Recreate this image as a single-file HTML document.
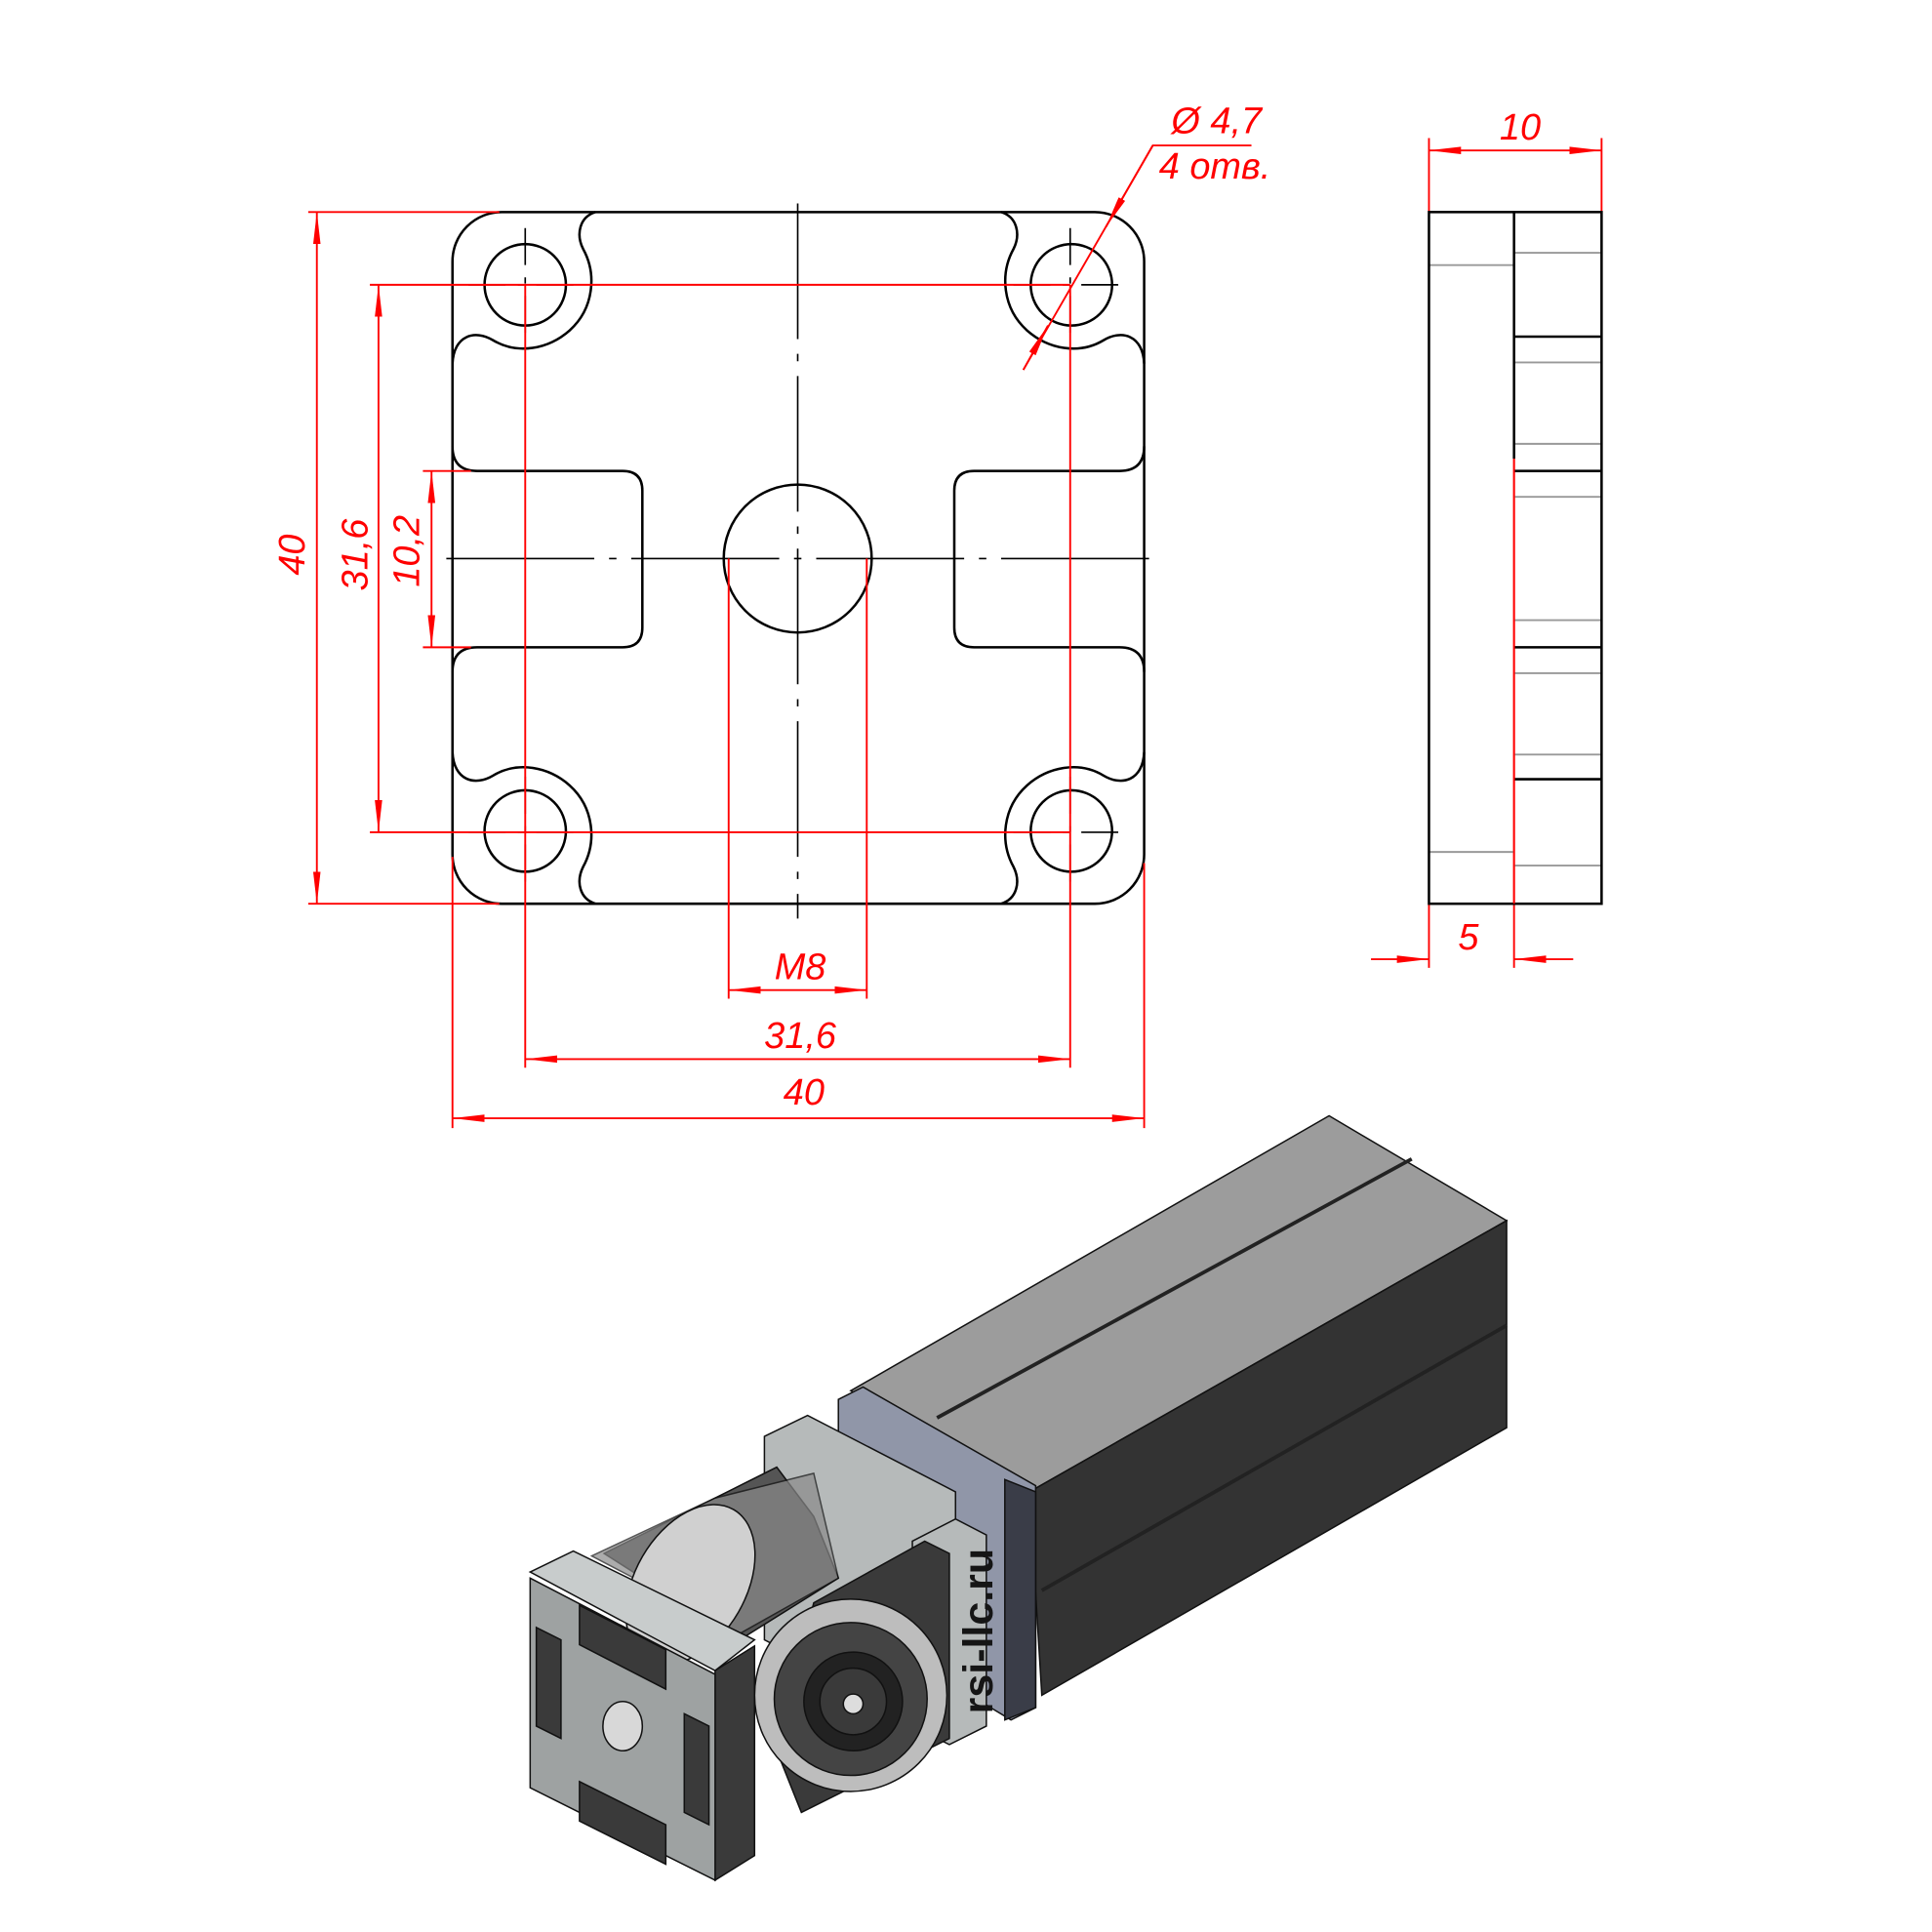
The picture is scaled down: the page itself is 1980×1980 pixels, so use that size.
<!DOCTYPE html>
<html><head><meta charset="utf-8"><style>
html,body{margin:0;padding:0;background:#fff}
svg{display:block}
.t{font-family:"Liberation Sans",sans-serif;font-style:italic;fill:#f00;font-size:30px}
</style></head><body>
<svg width="1980" height="1980" viewBox="0 0 1567 1567" xmlns="http://www.w3.org/2000/svg">
<defs>
<marker id="a" viewBox="0 0 26 8" refX="26" refY="4" markerWidth="26" markerHeight="8" markerUnits="userSpaceOnUse" orient="auto-start-reverse"><path d="M0,1 L26,4 L0,7 Z" fill="#f00"/></marker>
</defs>
<!-- plate outline -->
<g fill="none" stroke="#000" stroke-width="2">
<rect x="367" y="172" width="561" height="561" rx="40"/>
<g id="lobe"><path d="M483,172 C470,176 467,190 473,202 C484,222 482,250 462,268 C445,283 420,288 400,276 C385,267 368,272 367,295"/>
<circle cx="426" cy="231" r="33"/></g>
<use href="#lobe" transform="translate(1295,0) scale(-1,1)"/>
<use href="#lobe" transform="translate(0,905) scale(1,-1)"/>
<use href="#lobe" transform="translate(1295,905) scale(-1,-1)"/>
<path id="pk" d="M367,362 Q367,382 387,382 L505,382 Q521,382 521,398 L521,509 Q521,525 505,525 L387,525 Q367,525 367,545"/>
<use href="#pk" transform="translate(1295,0) scale(-1,1)"/>
<circle cx="647" cy="453" r="60"/>
</g>
<!-- centerlines -->
<g stroke="#000" stroke-width="1.3" fill="none">
<path d="M647,165 V745" stroke-dasharray="110,12,6,12"/>
<path d="M362,453 H938" stroke-dasharray="120,12,6,12"/>
<path d="M426,185 V277 M868,185 V277 M426,630 V720 M868,630 V720" stroke-dasharray="30,10,5,10"/>
<path d="M380,231 H472 M822,231 H915 M380,675 H472 M822,675 H915" stroke-dasharray="30,10,5,10"/>
</g>
<!-- dimensions -->
<g stroke="#f00" stroke-width="1.5" fill="none">
<path d="M367,695 V915 M928,700 V915 M426,231 V866 M868,231 V866 M591,453 V810 M703,453 V810"/>
<path d="M250,172 H405 M250,733 H405 M300,231 H868 M300,675 H868 M343,382 H382 M343,525 H382"/>
<line x1="367" y1="907" x2="928" y2="907" marker-start="url(#a)" marker-end="url(#a)"/>
<line x1="426" y1="859" x2="868" y2="859" marker-start="url(#a)" marker-end="url(#a)"/>
<line x1="591" y1="803" x2="703" y2="803" marker-start="url(#a)" marker-end="url(#a)"/>
<line x1="257" y1="172" x2="257" y2="733" marker-start="url(#a)" marker-end="url(#a)"/>
<line x1="307" y1="231" x2="307" y2="675" marker-start="url(#a)" marker-end="url(#a)"/>
<line x1="350" y1="382" x2="350" y2="525" marker-start="url(#a)" marker-end="url(#a)"/>
<path d="M830,300 L935,118 H1015"/>
<line x1="830" y1="300" x2="850" y2="264" marker-end="url(#a)"/>
<line x1="935" y1="118" x2="897" y2="184" marker-end="url(#a)"/>
<path d="M1159,112 V172 M1299,112 V172 M1159,733 V785 M1228,372 V785"/>
<line x1="1159" y1="122" x2="1299" y2="122" marker-start="url(#a)" marker-end="url(#a)"/>
<line x1="1112" y1="778" x2="1159" y2="778" marker-end="url(#a)"/>
<line x1="1276" y1="778" x2="1228" y2="778" marker-end="url(#a)"/>
</g>
<text class="t" x="652" y="896" text-anchor="middle">40</text>
<text class="t" x="649" y="850" text-anchor="middle">31,6</text>
<text class="t" x="649" y="794" text-anchor="middle">M8</text>
<text class="t" transform="translate(247,450) rotate(-90)" text-anchor="middle">40</text>
<text class="t" transform="translate(298,450) rotate(-90)" text-anchor="middle">31,6</text>
<text class="t" transform="translate(340,447) rotate(-90)" text-anchor="middle">10,2</text>
<text class="t" x="950" y="108">Ø 4,7</text>
<text class="t" x="940" y="145">4 отв.</text>
<text class="t" x="1233" y="113" text-anchor="middle">10</text>
<text class="t" x="1191" y="770" text-anchor="middle">5</text>
<!-- side view -->
<g fill="none">
<g stroke="#999" stroke-width="1.5">
<path d="M1159,215 H1228 M1159,691 H1228 M1228,205 H1299 M1228,294 H1299 M1228,360 H1299 M1228,403 H1299 M1228,503 H1299 M1228,546 H1299 M1228,612 H1299 M1228,702 H1299"/>
</g>
<g stroke="#000" stroke-width="2">
<rect x="1159" y="172" width="140" height="561"/>
<path d="M1228,172 V372 M1228,273 H1299 M1228,382 H1299 M1228,525 H1299 M1228,632 H1299"/>
</g>
<path d="M1228,372 V733" stroke="#f00" stroke-width="1.5"/>
</g>
<!-- 3D render -->
<g stroke="#111" stroke-width="1.2">
<polygon points="690,1128 1078,905 1222,990 835,1210" fill="#9c9c9c"/>
<polygon points="835,1210 1222,990 1222,1158 845,1375" fill="#333"/>
<line x1="760" y1="1150" x2="1145" y2="940" stroke="#222" stroke-width="3"/>
<line x1="845" y1="1290" x2="1222" y2="1075" stroke="#222" stroke-width="3"/>
<polygon points="680,1135 700,1125 840,1205 840,1385 820,1395 680,1310" fill="#9096a8"/>
<polygon points="815,1200 840,1210 840,1385 815,1395" fill="#3a3d48"/>
<polygon points="620,1165 655,1148 775,1210 775,1410 620,1330" fill="#b6baba"/>
<polygon points="740,1250 775,1232 800,1245 800,1400 770,1415 740,1400" fill="#b6baba"/>
<polygon points="660,1300 750,1250 770,1260 770,1410 650,1470 630,1420" fill="#3a3a3a"/>
<polygon points="490,1260 630,1190 660,1230 680,1280 600,1330" fill="#555"/>
<polygon points="480,1262 580,1215 660,1195 680,1280 600,1325" fill="#8a8a8a" opacity="0.7"/>
<ellipse cx="560" cy="1285" rx="45" ry="70" fill="#d0d0d0" transform="rotate(30 560 1285)"/>
<circle cx="690" cy="1375" r="78" fill="#bdbdbd"/>
<circle cx="690" cy="1378" r="62" fill="#444"/>
<circle cx="692" cy="1380" r="40" fill="#222"/>
<circle cx="692" cy="1380" r="27" fill="#3a3a3a"/>
<circle cx="692" cy="1382" r="8" fill="#ddd"/>
<polygon points="430,1275 465,1258 612,1330 580,1355" fill="#c8cccc"/>
<polygon points="580,1355 612,1335 612,1505 580,1525" fill="#3a3a3a"/>
<polygon points="430,1280 580,1358 580,1525 430,1450" fill="#9ea2a2"/>
<polygon points="470,1302 540,1338 540,1370 470,1334" fill="#3a3a3a"/>
<polygon points="470,1445 540,1480 540,1512 470,1477" fill="#3a3a3a"/>
<polygon points="435,1320 455,1330 455,1410 435,1400" fill="#3a3a3a"/>
<polygon points="555,1390 575,1400 575,1480 555,1470" fill="#3a3a3a"/>
<ellipse cx="505" cy="1400" rx="16" ry="20" fill="#d8d8d8"/>
</g>
<text transform="translate(805,1390) rotate(-90)" font-family="Liberation Sans,sans-serif" font-weight="bold" font-size="34" fill="#151515">rsi-llc.ru</text>
</svg>
</body></html>
